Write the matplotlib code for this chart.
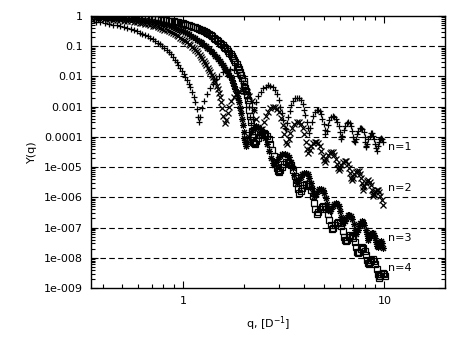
import numpy as np
import matplotlib
matplotlib.use("Agg")
import matplotlib.pyplot as plt
from matplotlib.ticker import LogLocator, FixedLocator, FixedFormatter, NullFormatter

# n=1 (+): (q, Y)
n1_pts = [
    (0.35, 0.68), (0.37, 0.645), (0.39, 0.61), (0.41, 0.58), (0.43, 0.55), (0.45, 0.52), (0.47, 0.49),
    (0.49, 0.46), (0.51, 0.43), (0.53, 0.40), (0.55, 0.37), (0.57, 0.34), (0.59, 0.31), (0.61, 0.28),
    (0.63, 0.255), (0.65, 0.23), (0.67, 0.21), (0.69, 0.19), (0.71, 0.17), (0.73, 0.15), (0.75, 0.13),
    (0.77, 0.115), (0.79, 0.10), (0.81, 0.087), (0.83, 0.075), (0.85, 0.063), (0.87, 0.053), (0.89, 0.043),
    (0.91, 0.035), (0.93, 0.029), (0.95, 0.023), (0.97, 0.019), (0.99, 0.015), (1.01, 0.012),
    (1.03, 0.0095), (1.05, 0.0076), (1.07, 0.0058), (1.09, 0.0043), (1.11, 0.0031), (1.13, 0.0021),
    (1.15, 0.0014), (1.17, 0.00085), (1.19, 0.00045), (1.20, 0.00032),
    (1.22, 0.00045), (1.25, 0.0009), (1.28, 0.0015), (1.32, 0.0026), (1.36, 0.0040), (1.41, 0.0058),
    (1.46, 0.0080), (1.52, 0.0105), (1.58, 0.0135), (1.65, 0.016), (1.72, 0.017), (1.79, 0.016),
    (1.86, 0.013), (1.92, 0.0095), (1.98, 0.0062), (2.03, 0.0038), (2.08, 0.0020), (2.12, 0.0010),
    (2.16, 0.00045), (2.19, 0.00028),
    (2.22, 0.0004), (2.26, 0.0008), (2.31, 0.0014), (2.37, 0.0022), (2.44, 0.0031), (2.51, 0.0040),
    (2.58, 0.0046), (2.65, 0.0050), (2.72, 0.0049), (2.79, 0.0044), (2.86, 0.0036), (2.93, 0.0026),
    (2.99, 0.0017), (3.05, 0.0010), (3.10, 0.0006), (3.15, 0.00035), (3.20, 0.0002), (3.24, 0.00018),
    (3.28, 0.00028), (3.33, 0.00045), (3.39, 0.0007), (3.46, 0.0011), (3.54, 0.0015), (3.62, 0.0019),
    (3.70, 0.0020), (3.78, 0.0019), (3.86, 0.0016), (3.93, 0.0012), (4.00, 0.0008), (4.06, 0.00052),
    (4.12, 0.00032), (4.18, 0.0002), (4.24, 0.00013),
    (4.30, 0.0002), (4.37, 0.00032), (4.45, 0.0005), (4.53, 0.00068), (4.62, 0.0008), (4.70, 0.00078),
    (4.78, 0.0007), (4.86, 0.00055), (4.93, 0.0004), (5.00, 0.00026), (5.05, 0.00017), (5.10, 0.00012),
    (5.17, 0.00016), (5.25, 0.00024), (5.34, 0.00035), (5.44, 0.00044), (5.55, 0.00048), (5.65, 0.00046),
    (5.75, 0.0004), (5.84, 0.00031), (5.93, 0.00022), (6.01, 0.00014), (6.07, 0.0001), (6.12, 8.5e-5),
    (6.19, 0.00011), (6.28, 0.00017), (6.38, 0.00023), (6.50, 0.00028), (6.62, 0.0003), (6.74, 0.00028),
    (6.85, 0.00023), (6.94, 0.00016), (7.02, 0.0001), (7.08, 7.5e-5), (7.12, 6.5e-5),
    (7.20, 8.5e-5), (7.30, 0.00012), (7.42, 0.00016), (7.54, 0.00019), (7.66, 0.0002), (7.78, 0.00018),
    (7.89, 0.00014), (7.98, 0.0001), (8.06, 6.5e-5), (8.11, 5e-5), (8.14, 4.5e-5),
    (8.22, 6e-5), (8.33, 8.5e-5), (8.45, 0.00011), (8.58, 0.00013), (8.70, 0.00013), (8.82, 0.00011),
    (8.92, 8.5e-5), (9.01, 6e-5), (9.09, 4.2e-5), (9.16, 3.5e-5),
    (9.25, 4.8e-5), (9.36, 6.5e-5), (9.48, 8.2e-5), (9.60, 9.2e-5), (9.72, 8.5e-5), (9.85, 7e-5),
]

# n=2 (x)
n2_pts = [
    (0.35, 0.84), (0.37, 0.825), (0.39, 0.81), (0.41, 0.79), (0.43, 0.775), (0.45, 0.76), (0.47, 0.74),
    (0.49, 0.72), (0.51, 0.70), (0.53, 0.68), (0.55, 0.66), (0.57, 0.64), (0.59, 0.62), (0.61, 0.60),
    (0.63, 0.57), (0.65, 0.55), (0.67, 0.53), (0.69, 0.50), (0.71, 0.48), (0.73, 0.455), (0.75, 0.43),
    (0.77, 0.405), (0.79, 0.38), (0.81, 0.355), (0.83, 0.33), (0.85, 0.31), (0.87, 0.29), (0.89, 0.27),
    (0.91, 0.25), (0.93, 0.23), (0.95, 0.21), (0.97, 0.19), (0.99, 0.175), (1.01, 0.16), (1.03, 0.145),
    (1.05, 0.133), (1.07, 0.12), (1.09, 0.108), (1.11, 0.097), (1.13, 0.087), (1.15, 0.077), (1.17, 0.068),
    (1.19, 0.059), (1.21, 0.051), (1.23, 0.044), (1.25, 0.038), (1.27, 0.032), (1.29, 0.028), (1.31, 0.023),
    (1.33, 0.019), (1.35, 0.016), (1.37, 0.014), (1.39, 0.0115), (1.41, 0.0095), (1.43, 0.0078),
    (1.45, 0.0063), (1.47, 0.0049), (1.49, 0.0038), (1.51, 0.0029), (1.53, 0.0021), (1.55, 0.0014),
    (1.57, 0.0009), (1.59, 0.0005), (1.61, 0.00028),
    (1.64, 0.00035), (1.67, 0.0006), (1.70, 0.001), (1.74, 0.0015), (1.79, 0.0021), (1.84, 0.0027),
    (1.90, 0.0032), (1.96, 0.0035), (2.02, 0.0034), (2.08, 0.003), (2.14, 0.0023), (2.20, 0.0015),
    (2.26, 0.0008), (2.31, 0.0004), (2.36, 0.0002), (2.40, 0.00013), (2.43, 0.00012),
    (2.47, 0.00018), (2.52, 0.0003), (2.58, 0.00048), (2.65, 0.00068), (2.72, 0.00088), (2.79, 0.001),
    (2.86, 0.00098), (2.93, 0.00085), (3.00, 0.00065), (3.07, 0.00042), (3.13, 0.00024), (3.19, 0.00012),
    (3.24, 7e-5), (3.29, 6e-5),
    (3.35, 8.5e-5), (3.42, 0.00013), (3.50, 0.0002), (3.58, 0.00026), (3.67, 0.0003), (3.76, 0.0003),
    (3.85, 0.00026), (3.93, 0.00019), (4.01, 0.00012), (4.08, 6.5e-5), (4.14, 4e-5), (4.19, 3e-5),
    (4.26, 3.8e-5), (4.34, 5e-5), (4.42, 6.3e-5), (4.51, 7e-5), (4.60, 7e-5), (4.69, 6.2e-5),
    (4.78, 4.8e-5), (4.87, 3.4e-5), (4.95, 2.3e-5), (5.02, 1.7e-5), (5.08, 1.5e-5),
    (5.16, 1.9e-5), (5.25, 2.5e-5), (5.35, 3e-5), (5.45, 3.2e-5), (5.55, 3.1e-5), (5.65, 2.6e-5),
    (5.74, 1.9e-5), (5.82, 1.3e-5), (5.89, 9.5e-6), (5.94, 8e-6),
    (6.02, 9.5e-6), (6.12, 1.2e-5), (6.23, 1.45e-5), (6.35, 1.6e-5), (6.47, 1.55e-5), (6.58, 1.3e-5),
    (6.68, 9.5e-6), (6.77, 6.5e-6), (6.84, 4.5e-6), (6.88, 3.6e-6),
    (6.97, 4.5e-6), (7.08, 5.8e-6), (7.20, 7e-6), (7.33, 7.5e-6), (7.46, 7.2e-6), (7.58, 6e-6),
    (7.68, 4.5e-6), (7.77, 3e-6), (7.84, 2.2e-6), (7.88, 1.8e-6),
    (7.97, 2.3e-6), (8.08, 2.9e-6), (8.20, 3.4e-6), (8.33, 3.6e-6), (8.46, 3.3e-6), (8.58, 2.6e-6),
    (8.68, 1.8e-6), (8.76, 1.3e-6), (8.80, 1.1e-6),
    (8.90, 1.3e-6), (9.02, 1.6e-6), (9.15, 1.8e-6), (9.28, 1.75e-6), (9.42, 1.5e-6), (9.56, 1.1e-6),
    (9.70, 8e-7), (9.85, 5.5e-7),
]

# n=3 (*)
n3_pts = [
    (0.35, 0.92), (0.375, 0.91), (0.40, 0.90), (0.425, 0.885), (0.45, 0.87), (0.475, 0.855), (0.50, 0.84),
    (0.525, 0.82), (0.55, 0.80), (0.575, 0.78), (0.60, 0.76), (0.625, 0.74), (0.65, 0.72), (0.675, 0.695),
    (0.70, 0.67), (0.725, 0.645), (0.75, 0.62), (0.775, 0.59), (0.80, 0.56), (0.825, 0.53), (0.85, 0.50),
    (0.875, 0.47), (0.90, 0.44), (0.925, 0.41), (0.95, 0.38), (0.975, 0.35), (1.00, 0.32), (1.025, 0.295),
    (1.05, 0.27), (1.075, 0.245), (1.10, 0.22), (1.125, 0.20), (1.15, 0.18), (1.175, 0.165), (1.20, 0.15),
    (1.225, 0.135), (1.25, 0.125), (1.275, 0.112), (1.30, 0.10), (1.325, 0.09), (1.35, 0.08), (1.375, 0.071),
    (1.40, 0.063), (1.425, 0.056), (1.45, 0.049), (1.475, 0.043), (1.50, 0.037), (1.525, 0.032),
    (1.55, 0.028), (1.575, 0.024), (1.60, 0.021), (1.625, 0.018), (1.65, 0.015), (1.675, 0.013),
    (1.70, 0.011), (1.725, 0.0092), (1.75, 0.0075), (1.775, 0.006), (1.80, 0.0048), (1.825, 0.0037),
    (1.85, 0.0028), (1.875, 0.002), (1.90, 0.0014), (1.92, 0.0009), (1.94, 0.0006), (1.96, 0.00038),
    (1.98, 0.00025), (2.00, 0.00015), (2.02, 9e-5), (2.04, 6.5e-5), (2.06, 5e-5),
    (2.09, 7e-5), (2.13, 0.0001), (2.17, 0.00014), (2.22, 0.00018), (2.27, 0.00021), (2.32, 0.00022),
    (2.37, 0.00021), (2.43, 0.00018), (2.49, 0.00014), (2.55, 9.5e-5), (2.61, 6e-5), (2.67, 3.5e-5),
    (2.73, 2e-5), (2.79, 1.4e-5), (2.84, 1.2e-5),
    (2.90, 1.5e-5), (2.97, 1.9e-5), (3.04, 2.4e-5), (3.12, 2.7e-5), (3.20, 2.8e-5), (3.28, 2.6e-5),
    (3.36, 2.1e-5), (3.44, 1.5e-5), (3.51, 9e-6), (3.58, 5.5e-6), (3.64, 3.8e-6), (3.70, 3e-6),
    (3.77, 3.6e-6), (3.84, 4.6e-6), (3.92, 5.8e-6), (4.00, 6.5e-6), (4.08, 6.6e-6), (4.16, 5.8e-6),
    (4.24, 4.4e-6), (4.31, 3e-6), (4.38, 2e-6), (4.44, 1.4e-6), (4.50, 1.1e-6),
    (4.58, 1.3e-6), (4.67, 1.6e-6), (4.76, 1.85e-6), (4.85, 1.9e-6), (4.94, 1.75e-6), (5.03, 1.4e-6),
    (5.12, 9.5e-7), (5.20, 6.2e-7), (5.28, 4.3e-7), (5.35, 3.5e-7),
    (5.44, 4.2e-7), (5.54, 5.2e-7), (5.64, 6.2e-7), (5.74, 6.6e-7), (5.84, 6.2e-7), (5.94, 5e-7),
    (6.04, 3.4e-7), (6.12, 2.3e-7), (6.19, 1.7e-7), (6.25, 1.4e-7),
    (6.35, 1.7e-7), (6.46, 2.1e-7), (6.58, 2.5e-7), (6.70, 2.6e-7), (6.82, 2.4e-7), (6.94, 1.9e-7),
    (7.05, 1.3e-7), (7.14, 8.5e-8), (7.20, 7e-8), (7.25, 6e-8),
    (7.36, 8e-8), (7.48, 1.1e-7), (7.60, 1.45e-7), (7.72, 1.6e-7), (7.84, 1.5e-7), (7.96, 1.2e-7),
    (8.07, 8.5e-8), (8.17, 6e-8), (8.25, 4.6e-8), (8.30, 4e-8),
    (8.40, 4.8e-8), (8.52, 5.8e-8), (8.64, 6.4e-8), (8.76, 6.5e-8), (8.88, 5.8e-8), (9.00, 4.5e-8),
    (9.11, 3.2e-8), (9.21, 2.5e-8), (9.30, 2.2e-8),
    (9.40, 2.6e-8), (9.52, 3.2e-8), (9.64, 3.5e-8), (9.76, 3e-8), (9.88, 2.1e-8),
]

# n=4 (open squares)
n4_pts = [
    (0.35, 0.97), (0.375, 0.965), (0.40, 0.96), (0.425, 0.955), (0.45, 0.95), (0.475, 0.94), (0.50, 0.93),
    (0.525, 0.92), (0.55, 0.91), (0.575, 0.895), (0.60, 0.88), (0.625, 0.865), (0.65, 0.85), (0.675, 0.835),
    (0.70, 0.82), (0.725, 0.80), (0.75, 0.78), (0.775, 0.76), (0.80, 0.74), (0.825, 0.72), (0.85, 0.70),
    (0.875, 0.68), (0.90, 0.66), (0.925, 0.635), (0.95, 0.61), (0.975, 0.59), (1.00, 0.57), (1.025, 0.545),
    (1.05, 0.52), (1.075, 0.495), (1.10, 0.47), (1.125, 0.445), (1.15, 0.42), (1.175, 0.395), (1.20, 0.37),
    (1.225, 0.35), (1.25, 0.33), (1.275, 0.307), (1.30, 0.285), (1.325, 0.265), (1.35, 0.245),
    (1.375, 0.227), (1.40, 0.21), (1.425, 0.192), (1.45, 0.175), (1.475, 0.16), (1.50, 0.145),
    (1.525, 0.132), (1.55, 0.12), (1.575, 0.108), (1.60, 0.097), (1.625, 0.087), (1.65, 0.078),
    (1.675, 0.069), (1.70, 0.061), (1.725, 0.054), (1.75, 0.047), (1.775, 0.041), (1.80, 0.035),
    (1.825, 0.03), (1.85, 0.025), (1.875, 0.021), (1.90, 0.017), (1.925, 0.014), (1.95, 0.011),
    (1.975, 0.0088), (2.00, 0.0068), (2.02, 0.0054), (2.04, 0.0042), (2.06, 0.0032), (2.08, 0.0024),
    (2.10, 0.0017), (2.12, 0.0012), (2.14, 0.0008), (2.16, 0.0005), (2.18, 0.0003), (2.20, 0.00016),
    (2.22, 0.0001), (2.24, 7e-5), (2.26, 6.2e-5), (2.28, 6e-5),
    (2.32, 7.5e-5), (2.37, 9.5e-5), (2.42, 0.000115), (2.47, 0.000128), (2.52, 0.00013), (2.57, 0.000122),
    (2.62, 0.000105), (2.67, 8.2e-5), (2.72, 5.8e-5), (2.77, 3.8e-5), (2.82, 2.3e-5), (2.87, 1.4e-5),
    (2.92, 9.5e-6), (2.96, 7.5e-6), (3.00, 7e-6),
    (3.05, 8e-6), (3.11, 1e-5), (3.17, 1.25e-5), (3.24, 1.45e-5), (3.31, 1.5e-5), (3.38, 1.4e-5),
    (3.45, 1.15e-5), (3.52, 8e-6), (3.59, 5e-6), (3.65, 3e-6), (3.71, 1.9e-6), (3.77, 1.4e-6),
    (3.84, 1.6e-6), (3.92, 2e-6), (4.00, 2.5e-6), (4.08, 2.8e-6), (4.16, 2.8e-6), (4.24, 2.4e-6),
    (4.32, 1.8e-6), (4.40, 1.1e-6), (4.48, 6.5e-7), (4.55, 4e-7), (4.63, 2.8e-7),
    (4.71, 3.3e-7), (4.80, 4.1e-7), (4.89, 4.8e-7), (4.98, 5.2e-7), (5.07, 4.9e-7), (5.16, 4e-7),
    (5.25, 2.8e-7), (5.33, 1.8e-7), (5.41, 1.2e-7), (5.48, 9e-8),
    (5.58, 1e-7), (5.68, 1.2e-7), (5.79, 1.4e-7), (5.90, 1.5e-7), (6.01, 1.4e-7), (6.12, 1.1e-7),
    (6.22, 7.5e-8), (6.31, 5e-8), (6.37, 4e-8), (6.42, 3.5e-8),
    (6.53, 4e-8), (6.65, 4.8e-8), (6.78, 5.5e-8), (6.90, 5.3e-8), (7.02, 4.4e-8), (7.13, 3.2e-8),
    (7.24, 2.2e-8), (7.33, 1.6e-8), (7.40, 1.4e-8),
    (7.52, 1.6e-8), (7.64, 2e-8), (7.76, 2.2e-8), (7.88, 2.1e-8), (8.00, 1.7e-8), (8.11, 1.2e-8),
    (8.21, 8.5e-9), (8.30, 6.8e-9), (8.38, 6e-9),
    (8.50, 7e-9), (8.62, 8.2e-9), (8.76, 8.8e-9), (8.90, 8e-9), (9.03, 6.2e-9), (9.16, 4.3e-9),
    (9.28, 3e-9), (9.38, 2.4e-9), (9.45, 2.2e-9),
    (9.56, 2.5e-9), (9.68, 2.9e-9), (9.80, 3.2e-9), (9.92, 3e-9), (10.04, 2.4e-9),
]

labels = ["n=1", "n=2", "n=3", "n=4"]
label_q = [10.4, 10.4, 10.4, 10.4]
label_y = [4.7e-5, 2.0e-6, 4.4e-8, 4.5e-9]

ytick_vals = [1, 0.1, 0.01, 0.001, 1e-4, 1e-5, 1e-6, 1e-7, 1e-8, 1e-9]
ytick_text = ["1", "0.1", "0.01", "0.001", "0.0001", "1e-005", "1e-006", "1e-007", "1e-008", "1e-009"]

plt.rcParams['font.family'] = ['DejaVu Sans']
fig = plt.figure(figsize=(4.52, 3.38), dpi=100)
ax = fig.add_axes([0.2013, 0.148, 0.7832, 0.8049])

# dashed decade lines
for v in ytick_vals[1:-1]:
    ax.axhline(v, color='black', lw=0.8, ls=(0, (5, 3)), zorder=1)

styles = [
    dict(marker='+', ms=4.8, mew=0.9),
    dict(marker='x', ms=3.8, mew=0.9),
    dict(marker=(8, 2, 0), ms=5.0, mew=0.8),
    dict(marker='s', ms=3.8, mew=0.9, mfc='none'),
]
for pts, st in zip([n1_pts, n2_pts, n3_pts, n4_pts], styles):
    q, y = zip(*pts)
    ax.plot(q, y, ls='none', color='black', **st)

for t, xq, yv in zip(labels, label_q, label_y):
    ax.text(xq, yv, t, fontsize=8, va='center', ha='left')

ax.set_xscale('log')
ax.set_yscale('log')
ax.set_xlim(0.35, 20)
ax.set_ylim(1e-9, 1)

ax.yaxis.set_major_locator(FixedLocator(ytick_vals))
ax.yaxis.set_major_formatter(FixedFormatter(ytick_text))
ax.yaxis.set_minor_locator(LogLocator(base=10, subs=np.arange(2, 10), numticks=100))
ax.yaxis.set_minor_formatter(NullFormatter())
ax.xaxis.set_major_locator(FixedLocator([1, 10]))
ax.xaxis.set_major_formatter(FixedFormatter(["1", "10"]))
ax.xaxis.set_minor_locator(LogLocator(base=10, subs=np.arange(2, 10), numticks=100))
ax.xaxis.set_minor_formatter(NullFormatter())

ax.tick_params(which='both', direction='in', top=True, right=True, labelsize=8, colors='black')
ax.tick_params(which='major', length=5, width=0.8, pad=6)
ax.tick_params(which='minor', length=3, width=0.8)
for s in ax.spines.values():
    s.set_linewidth(1.0)

ax.set_ylabel('Y(q)', fontsize=8, labelpad=5)
ax.set_xlabel('q, [D$^{-1}$]', fontsize=8, labelpad=6)

fig.savefig('out.png', dpi=100)
